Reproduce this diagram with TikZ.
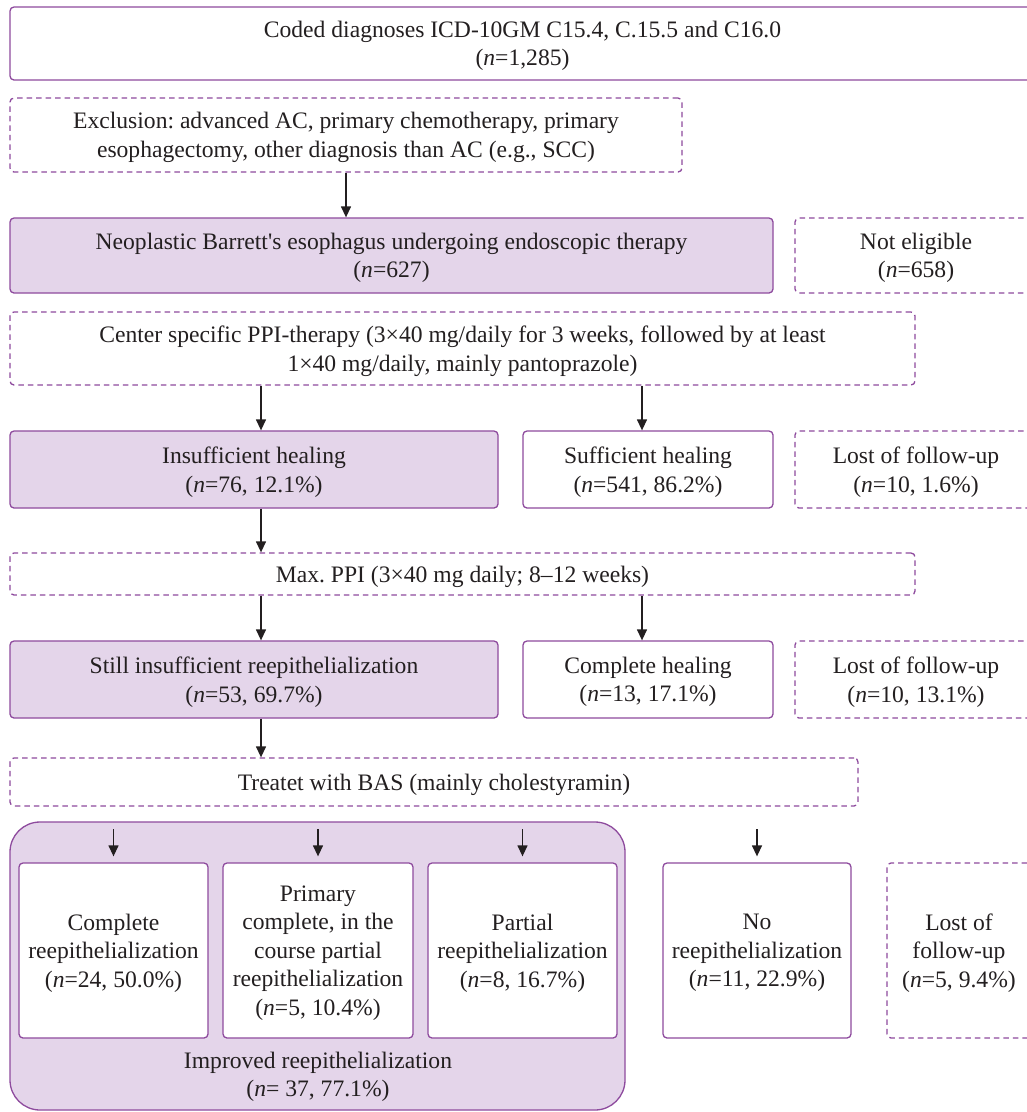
\documentclass[tikz,border=0pt]{standalone}
\usepackage{fontspec}
\setmainfont{Liberation Serif}
\newfontfamily\aposfont{Liberation Serif}[Ligatures=TeXOff]
\usetikzlibrary{arrows.meta,calc}
\definecolor{pborder}{HTML}{8E4B9E}
\definecolor{pfill}{HTML}{E4D5EA}
\definecolor{txt}{HTML}{231F20}
\tikzset{
 box/.style={draw=pborder, line width=1.3pt, rounded corners=4pt, inner sep=0pt, align=center, text=txt, font=\fontsize{23.6}{28.6}\selectfont\frenchspacing, text depth=-4pt},
 solidbox/.style={box, fill=white},
 filledbox/.style={box, fill=pfill},
 dashbox/.style={box, dash pattern=on 5.5pt off 4pt},
 arr/.style={draw=txt, line width=1.3pt, -{Triangle[width=10pt,length=11pt]}},
 lbl/.style={align=center, text=txt, inner sep=0pt, font=\fontsize{23.6}{28.6}\selectfont\frenchspacing},
}
\newcommand{\nn}{\textit{n}}
\begin{document}
\begin{tikzpicture}[x=1pt,y=-1pt]
\clip (0,0) rectangle (1027,1112);
\fill[white] (0,0) rectangle (1027,1112);

\node[solidbox, minimum width=1025pt, minimum height=73pt] (top) at (522.5,43.5)
 {Coded diagnoses ICD-10GM C15.4, C.15.5 and C16.0\\(\nn=1,285)};
\node[dashbox, minimum width=672pt, minimum height=74pt] (excl) at (346,135)
 {Exclusion: advanced AC, primary chemotherapy, primary\\esophagectomy, other diagnosis than AC (e.g., SCC)};
\node[filledbox, minimum width=763pt, minimum height=75pt] (neo) at (391.5,255.5)
 {Neoplastic Barrett{\aposfont'}s esophagus undergoing endoscopic therapy\\(\nn=627)};
\node[dashbox, minimum width=242pt, minimum height=75pt] (noteli) at (916,255.5)
 {Not eligible\\(\nn=658)};
\node[dashbox, minimum width=905pt, minimum height=73pt] (center) at (462.5,348.5)
 {Center specific PPI-therapy (3×40 mg/daily for 3 weeks, followed by at least\\1×40 mg/daily, mainly pantoprazole)};
\node[filledbox, minimum width=488pt, minimum height=77pt] (insuff) at (254,469.5)
 {Insufficient healing\\(\nn=76, 12.1\%)};
\node[solidbox, minimum width=250pt, minimum height=77pt] (suff) at (648,469.5)
 {Sufficient healing\\(\nn=541, 86.2\%)};
\node[dashbox, minimum width=242pt, minimum height=77pt] (lost1) at (916,469.5)
 {Lost of follow-up\\(\nn=10, 1.6\%)};
\node[dashbox, minimum width=905pt, minimum height=42pt] (maxppi) at (462.5,574)
 {Max. PPI (3×40 mg daily; 8--12 weeks)};
\node[filledbox, minimum width=488pt, minimum height=77pt] (still) at (254,679.5)
 {Still insufficient reepithelialization\\(\nn=53, 69.7\%)};
\node[solidbox, minimum width=250pt, minimum height=77pt] (complete) at (648,679.5)
 {Complete healing\\(\nn=13, 17.1\%)};
\node[dashbox, minimum width=242pt, minimum height=77pt] (lost2) at (916,679.5)
 {Lost of follow-up\\(\nn=10, 13.1\%)};
\node[dashbox, minimum width=848pt, minimum height=48pt] (treated) at (434,782)
 {Treatet with BAS (mainly cholestyramin)};

\node[filledbox, rounded corners=30pt, minimum width=615pt, minimum height=288pt] (group) at (317.5,966) {};
\node[solidbox, minimum width=189pt, minimum height=175pt] (b1) at (113.5,950.5)
 {Complete\\reepithelialization\\(\nn=24, 50.0\%)};
\node[solidbox, minimum width=190pt, minimum height=175pt] (b2) at (318,950.5)
 {Primary\\complete, in the\\course partial\\reepithelialization\\(\nn=5, 10.4\%)};
\node[solidbox, minimum width=189pt, minimum height=175pt] (b3) at (522.5,950.5)
 {Partial\\reepithelialization\\(\nn=8, 16.7\%)};
\node[solidbox, minimum width=188pt, minimum height=175pt] (b4) at (757,950.5)
 {No\\reepithelialization\\(\nn=11, 22.9\%)};
\node[dashbox, minimum width=144pt, minimum height=175pt] (b5) at (959,950.5)
 {Lost of\\follow-up\\(\nn=5, 9.4\%)};
\node[lbl] (impr) at (318,1077) {Improved reepithelialization\\(\nn= 37, 77.1\%)};

\coordinate (cL) at (261,0);
\coordinate (cR) at (642,0);
\draw[arr] (excl.south) -- (excl.south |- neo.north);
\draw[arr] (center.south -| cL) -- (insuff.north -| cL);
\draw[arr] (center.south -| cR) -- (suff.north -| cR);
\draw[arr] (insuff.south -| cL) -- (maxppi.north -| cL);
\draw[arr] (maxppi.south -| cL) -- (still.north -| cL);
\draw[arr] (maxppi.south -| cR) -- (complete.north -| cR);
\draw[arr] (still.south -| cL) -- (treated.north -| cL);
\draw[arr] ([yshift=33pt]b1.north) -- ([yshift=6pt]b1.north);
\draw[arr] ([yshift=33pt]b2.north) -- ([yshift=6pt]b2.north);
\draw[arr] ([yshift=33pt]b3.north) -- ([yshift=6pt]b3.north);
\draw[arr] ([yshift=33pt]b4.north) -- ([yshift=6pt]b4.north);
\end{tikzpicture}
\end{document}
